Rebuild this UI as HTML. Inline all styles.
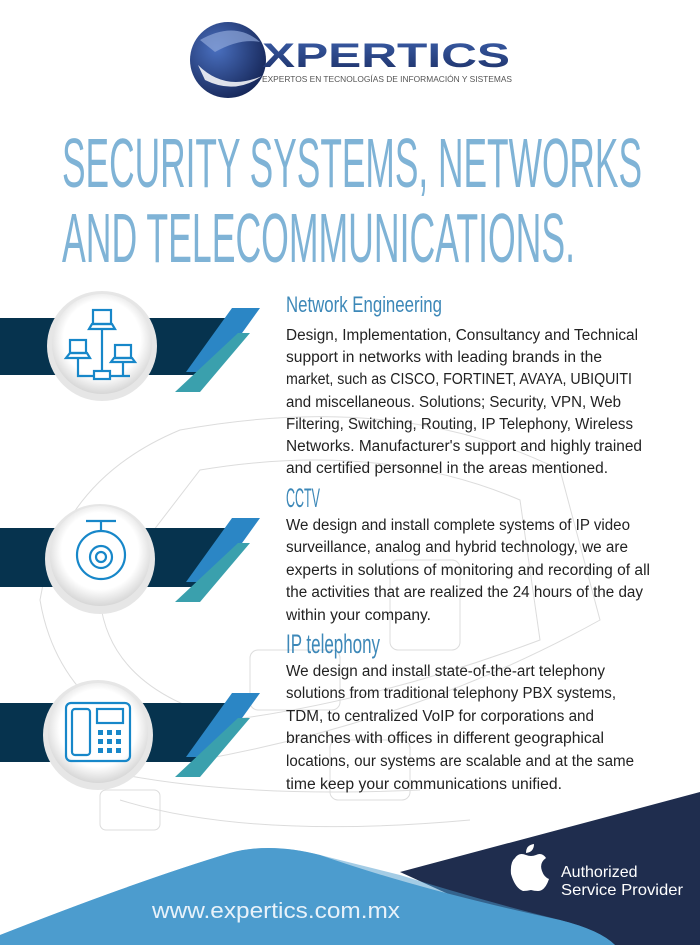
<!DOCTYPE html>
<html><head><meta charset="utf-8"><style>
html,body{margin:0;padding:0;background:#fff;}
svg{display:block;}
.b{font-family:"Liberation Sans",sans-serif;font-size:15.5px;fill:#222;}
.h{font-family:"Liberation Sans",sans-serif;fill:#3d88b8;}
</style></head><body>
<svg width="700" height="945" viewBox="0 0 700 945" xmlns="http://www.w3.org/2000/svg">
<defs>
<radialGradient id="cg" cx="50%" cy="45%" r="55%"><stop offset="0.7" stop-color="#fff"/><stop offset="1" stop-color="#d6d6d6"/></radialGradient>
<radialGradient id="lg" cx="35%" cy="35%" r="70%"><stop offset="0" stop-color="#4a70c0"/><stop offset="1" stop-color="#17285a"/></radialGradient>
<linearGradient id="xg" x1="0" y1="0" x2="0" y2="1"><stop offset="0" stop-color="#3b5ea8"/><stop offset="1" stop-color="#1c2f66"/></linearGradient>
</defs>
<g fill="none" stroke="#dcdcdc" stroke-width="1">
<path d="M180 430 Q400 390 560 470 L600 620 Q420 720 200 760 Q60 720 40 600 Q60 480 180 430Z"/>
<path d="M200 470 Q380 440 520 500 L540 640 Q380 700 230 720 Q110 690 100 600Z"/>
<rect x="250" y="650" width="90" height="60" rx="8"/><rect x="390" y="560" width="70" height="90" rx="8"/>
<rect x="100" y="790" width="60" height="40" rx="6"/><rect x="330" y="740" width="80" height="60" rx="8"/>
<path d="M120 800 Q250 840 470 820"/><path d="M60 760 Q200 800 420 790"/>
</g>
<ellipse cx="228" cy="60" rx="38" ry="38" fill="url(#lg)"/>
<path d="M200 40 Q235 20 260 42 Q240 38 215 52Z" fill="#8fa6d8" opacity=".7"/>
<path d="M198 65 Q225 92 262 76 Q235 95 205 80Z" fill="#fff" opacity=".85"/>
<text x="262" y="67" font-family="Liberation Sans,sans-serif" font-weight="bold" font-size="34" fill="url(#xg)" textLength="248" lengthAdjust="spacingAndGlyphs">XPERTICS</text>
<text x="262" y="82" font-family="Liberation Sans,sans-serif" font-size="8.5" fill="#555" textLength="250" lengthAdjust="spacingAndGlyphs">EXPERTOS EN TECNOLOGÍAS DE INFORMACIÓN Y SISTEMAS</text>
<g fill="#fff" stroke="#2f7fb2" stroke-width="1.6">
<text x="62" y="187" font-family="Liberation Sans,sans-serif" font-size="70" fill="#7fb3d6" stroke="none" textLength="580" lengthAdjust="spacingAndGlyphs">SECURITY SYSTEMS, NETWORKS</text>
<text x="62" y="262" font-family="Liberation Sans,sans-serif" font-size="70" fill="#7fb3d6" stroke="none" textLength="513" lengthAdjust="spacingAndGlyphs">AND TELECOMMUNICATIONS.</text>
</g>
<g>
<polygon points="0,318 245,318 200,375 0,375" fill="#06334e"/>
<polygon points="232,308 260,308 214,372 186,372" fill="#2b86c5"/>
<polygon points="238,333 250,333 200,392 175,392" fill="#3aa0ad"/>
<circle cx="102" cy="346" r="55" fill="#e6e6e6"/>
<circle cx="102" cy="344" r="50" fill="url(#cg)"/>
<g fill="none" stroke="#1787c9" stroke-width="2.2">
<rect x="93" y="310" width="18" height="14"/><path d="M89 329 L115 329 L112 324 L92 324Z"/>
<rect x="70" y="340" width="16" height="13"/><path d="M66 358 L90 358 L87 353 L70 353Z"/>
<rect x="115" y="345" width="16" height="13"/><path d="M111 362 L135 362 L132 358 L114 358Z"/>
<path d="M102 329 V376 M78 358 V376 H130 M123 362 V376"/><rect x="94" y="371" width="16" height="8" fill="#fff"/>
</g>
</g>
<g transform="translate(0,210)">
<polygon points="0,318 245,318 200,377 0,377" fill="#06334e"/>
<polygon points="232,308 260,308 214,372 186,372" fill="#2b86c5"/>
<polygon points="238,333 250,333 200,392 175,392" fill="#3aa0ad"/>
<circle cx="100" cy="349" r="55" fill="#e6e6e6"/>
<circle cx="100" cy="346" r="50" fill="url(#cg)"/>
<g fill="none" stroke="#1787c9" stroke-width="2.2">
<path d="M86 311 H116 M101 311 V322"/><circle cx="101" cy="345" r="24"/><circle cx="101" cy="347" r="11"/><circle cx="101" cy="347" r="5"/>
</g>
</g>
<g transform="translate(0,385)">
<polygon points="0,318 245,318 200,377 0,377" fill="#06334e"/>
<polygon points="232,308 260,308 214,372 186,372" fill="#2b86c5"/>
<polygon points="238,333 250,333 200,392 175,392" fill="#3aa0ad"/>
<circle cx="98" cy="350" r="55" fill="#e6e6e6"/>
<circle cx="98" cy="348" r="50" fill="url(#cg)"/>
<g fill="none" stroke="#1787c9" stroke-width="2.2">
<rect x="66" y="318" width="64" height="58" rx="5"/><rect x="72" y="324" width="18" height="46" rx="3"/><rect x="97" y="324" width="26" height="14"/>
</g>
<g fill="#1787c9"><rect x="98" y="345" width="5" height="5"/><rect x="107" y="345" width="5" height="5"/><rect x="116" y="345" width="5" height="5"/>
<rect x="98" y="354" width="5" height="5"/><rect x="107" y="354" width="5" height="5"/><rect x="116" y="354" width="5" height="5"/>
<rect x="98" y="363" width="5" height="5"/><rect x="107" y="363" width="5" height="5"/><rect x="116" y="363" width="5" height="5"/></g>
</g>
<text class="h" x="286" y="312" font-size="22" textLength="156" lengthAdjust="spacingAndGlyphs">Network Engineering</text>
<text class="b" x="286" y="340" textLength="352" lengthAdjust="spacingAndGlyphs">Design, Implementation, Consultancy and Technical</text>
<text class="b" x="286" y="362" textLength="316" lengthAdjust="spacingAndGlyphs">support in networks with leading brands in the</text>
<text class="b" x="286" y="384" textLength="346" lengthAdjust="spacingAndGlyphs">market, such as CISCO, FORTINET, AVAYA, UBIQUITI</text>
<text class="b" x="286" y="407" textLength="335" lengthAdjust="spacingAndGlyphs">and miscellaneous. Solutions; Security, VPN, Web</text>
<text class="b" x="286" y="429" textLength="347" lengthAdjust="spacingAndGlyphs">Filtering, Switching, Routing, IP Telephony, Wireless</text>
<text class="b" x="286" y="451" textLength="356" lengthAdjust="spacingAndGlyphs">Networks. Manufacturer's support and highly trained</text>
<text class="b" x="286" y="473" textLength="322" lengthAdjust="spacingAndGlyphs">and certified personnel in the areas mentioned.</text>
<text class="h" x="286" y="507" font-size="27" textLength="34" lengthAdjust="spacingAndGlyphs">CCTV</text>
<text class="b" x="286" y="530" textLength="344" lengthAdjust="spacingAndGlyphs">We design and install complete systems of IP video</text>
<text class="b" x="286" y="552" textLength="342" lengthAdjust="spacingAndGlyphs">surveillance, analog and hybrid technology, we are</text>
<text class="b" x="286" y="575" textLength="364" lengthAdjust="spacingAndGlyphs">experts in solutions of monitoring and recording of all</text>
<text class="b" x="286" y="597" textLength="357" lengthAdjust="spacingAndGlyphs">the activities that are realized the 24 hours of the day</text>
<text class="b" x="286" y="620" textLength="145" lengthAdjust="spacingAndGlyphs">within your company.</text>
<text class="h" x="286" y="653" font-size="27" textLength="94" lengthAdjust="spacingAndGlyphs">IP telephony</text>
<text class="b" x="286" y="676" textLength="319" lengthAdjust="spacingAndGlyphs">We design and install state-of-the-art telephony</text>
<text class="b" x="286" y="698" textLength="330" lengthAdjust="spacingAndGlyphs">solutions from traditional telephony PBX systems,</text>
<text class="b" x="286" y="721" textLength="308" lengthAdjust="spacingAndGlyphs">TDM, to centralized VoIP for corporations and</text>
<text class="b" x="286" y="743" textLength="318" lengthAdjust="spacingAndGlyphs">branches with offices in different geographical</text>
<text class="b" x="286" y="766" textLength="348" lengthAdjust="spacingAndGlyphs">locations, our systems are scalable and at the same</text>
<text class="b" x="286" y="789" textLength="276" lengthAdjust="spacingAndGlyphs">time keep your communications unified.</text>
<polygon points="700,792 700,945 560,945 400,872" fill="#1f2d4e"/>
<path d="M0 935 Q140 880 230 853 Q270 842 320 855 Q420 890 560 920 Q600 930 615 945 L0 945Z" fill="#4f9fd0"/>
<path d="M0 945 L0 935 Q140 880 230 853 Q270 842 320 855 L400 875 Q480 900 560 920 Q600 930 615 945Z" fill="#4a9acb" opacity=".5"/>
<text x="152" y="918" font-family="Liberation Sans,sans-serif" font-size="22" fill="#e8f2fa" textLength="248" lengthAdjust="spacingAndGlyphs">www.expertics.com.mx</text>
<path d="M515 858 q4 -6 11 -3 q5 2 10 0 q6 -3 10 3 q-7 5 -4 13 q2 6 7 8 q-4 12 -11 12 q-4 0 -7 -1 q-4 1 -8 1 q-8 -3 -12 -17 q-1 -12 4 -16Z M526 853 q0 -8 8 -9 q0 8 -8 9Z" fill="#fff"/>
<text x="561" y="877" font-family="Liberation Sans,sans-serif" font-size="16" fill="#fff">Authorized</text>
<text x="561" y="895" font-family="Liberation Sans,sans-serif" font-size="16" fill="#fff" textLength="122" lengthAdjust="spacingAndGlyphs">Service Provider</text>
</svg>
</body></html>
